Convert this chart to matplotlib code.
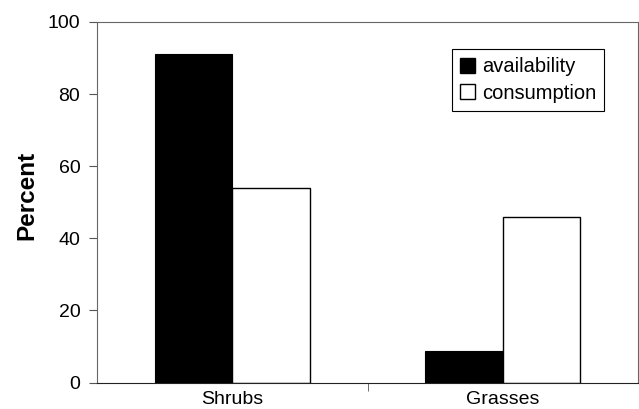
import numpy as np
import matplotlib.pyplot as plt
from matplotlib.patches import Patch

plt.rcParams['font.family'] = ['Liberation Sans', 'DejaVu Sans']

categories = ["Shrubs", "Grasses"]
availability = [91.2, 8.7]
consumption = [53.9, 45.8]
series_names = ["availability", "consumption"]

fig = plt.figure(figsize=(6.39, 4.09), dpi=100)
ax = fig.add_axes([97 / 639, 26.5 / 409, 541 / 639, 360.5 / 409])

x = np.arange(len(categories))
w = 0.287
ax.bar(x - w / 2, availability, w, color="black", edgecolor="black", linewidth=0.8)
ax.bar(x + w / 2, consumption, w, color="white", edgecolor="black", linewidth=1.0)

ax.set_xlim(-0.5, 1.5)
ax.set_ylim(0, 100)
ax.set_yticks([0, 20, 40, 60, 80, 100])
ax.set_xticks(x)
ax.set_xticklabels(categories, fontsize=14)
ax.set_xticks([0.5], minor=True)
ax.tick_params(axis="x", which="major", length=0, pad=6)
ax.tick_params(axis="x", which="minor", length=6, direction="out", color="#555555")
ax.tick_params(axis="y", length=6, direction="out", labelsize=14, pad=6, color="#555555")

for side in ["top", "right", "left"]:
    ax.spines[side].set_color("#666666")
    ax.spines[side].set_linewidth(0.8)
ax.spines["bottom"].set_color("#222222")

ax.set_ylabel("Percent", fontsize=17.5, fontweight="bold")
ax.yaxis.set_label_coords(-0.108, 0.52)

handles = [Patch(facecolor="black", edgecolor="black"),
           Patch(facecolor="white", edgecolor="black")]
leg = ax.legend(handles, series_names, loc="upper left", bbox_to_anchor=(0.656, 0.924),
                fontsize=14.5, handlelength=0.75, handleheight=0.75, handletextpad=0.35,
                borderpad=0.4, labelspacing=0.35, fancybox=False, framealpha=1,
                edgecolor="black", borderaxespad=0)
leg.get_frame().set_linewidth(0.8)

fig.savefig("out.png", dpi=100)
